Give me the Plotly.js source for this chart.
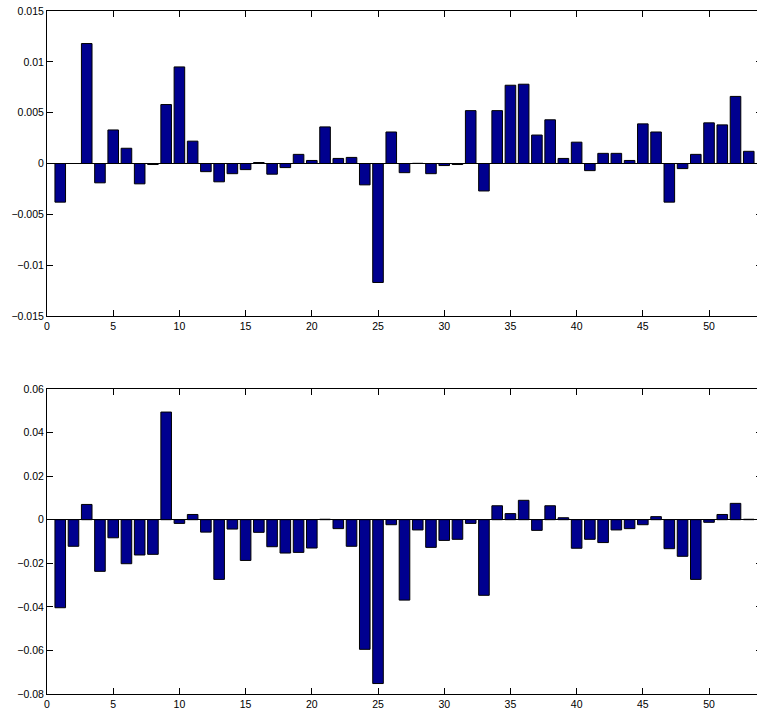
<!DOCTYPE html>
<html>
<head>
<meta charset="utf-8">
<script src="https://cdn.plot.ly/plotly-3.0.1.min.js"></script>
<style>
html, body { margin: 0; padding: 0; overflow: hidden; background: #fff; }
#chart { width: 762px; height: 709px; }
</style>
</head>
<body>
<div id="chart"></div>
<script>
// Bar indices
const idx = Array.from({length: 53}, (_, i) => i + 1);

// Top panel values
const topValues = [
  -0.0038, 0.0000, 0.0118, -0.0019, 0.0033, 0.0015, -0.0020, -0.0001, 0.0058, 0.0095,
  0.0022, -0.0008, -0.0018, -0.0010, -0.0006, 0.0001, -0.00105, -0.0004, 0.0009, 0.0003,
  0.0036, 0.0005, 0.0006, -0.0021, -0.0117, 0.0031, -0.0009, 0.00002, -0.0010, -0.0002,
  -0.0001, 0.0052, -0.0027, 0.0052, 0.0077, 0.0078, 0.0028, 0.0043, 0.0005, 0.0021,
  -0.0007, 0.0010, 0.0010, 0.0003, 0.0039, 0.0031, -0.0038, -0.0005, 0.0009, 0.0040,
  0.0038, 0.0066, 0.0012
];

// Bottom panel values
const bottomValues = [
  -0.0404, -0.0122, 0.0070, -0.0237, -0.0083, -0.0202, -0.0162, -0.0159, 0.0494, -0.0017,
  0.0024, -0.0057, -0.0274, -0.0043, -0.0187, -0.0058, -0.0124, -0.0153, -0.0150, -0.0130,
  0.0002, -0.0041, -0.0122, -0.0595, -0.0752, -0.0023, -0.0369, -0.0047, -0.0127, -0.0095,
  -0.0090, -0.0017, -0.0347, 0.0064, 0.0028, 0.0089, -0.0049, 0.0064, 0.0009, -0.0131,
  -0.0090, -0.0105, -0.0047, -0.0041, -0.0023, 0.0014, -0.0133, -0.0168, -0.0274, -0.0012,
  0.0024, 0.0075, 0.0002
];

// Tick labels
const xTickVals = [0, 5, 10, 15, 20, 25, 30, 35, 40, 45, 50];
const xTickText = ['0', '5', '10', '15', '20', '25', '30', '35', '40', '45', '50'];
const topTickVals = [-0.015, -0.01, -0.005, 0, 0.005, 0.01, 0.015];
const topTickText = ['\u22120.015', '\u22120.01', '\u22120.005', '0', '0.005', '0.01', '0.015'];
const botTickVals = [-0.08, -0.06, -0.04, -0.02, 0, 0.02, 0.04, 0.06];
const botTickText = ['\u22120.08', '\u22120.06', '\u22120.04', '\u22120.02', '0', '0.02', '0.04', '0.06'];

const barColor = '#00008F';
const font = {family: 'Liberation Sans, Arial, sans-serif', size: 10.5, color: '#000'};

const traces = [
  {type: 'bar', x: idx, y: topValues, xaxis: 'x', yaxis: 'y', width: 0.8,
   marker: {color: barColor, line: {color: '#000', width: 1}}, hoverinfo: 'x+y'},
  {type: 'bar', x: idx, y: bottomValues, xaxis: 'x2', yaxis: 'y2', width: 0.8,
   marker: {color: barColor, line: {color: '#000', width: 1}}, hoverinfo: 'x+y'}
];

function xAxis(anchor) {
  return {
    anchor: anchor, range: [0, 54], tickmode: 'array', tickvals: xTickVals, ticktext: xTickText,
    ticks: 'inside', ticklen: 6, tickcolor: '#000', showline: true, linecolor: '#000', linewidth: 1,
    mirror: 'ticks', showgrid: false, zeroline: false, tickfont: font, fixedrange: true
  };
}
function yAxis(anchor, domain, range, vals, text) {
  return {
    anchor: anchor, domain: domain, range: range, tickmode: 'array', tickvals: vals, ticktext: text,
    ticks: 'inside', ticklen: 6, tickcolor: '#000', showline: true, linecolor: '#000', linewidth: 1,
    mirror: 'ticks', showgrid: false, zeroline: true, zerolinecolor: '#000', zerolinewidth: 1,
    tickfont: font, fixedrange: true
  };
}

const layout = {
  width: 762, height: 709,
  margin: {l: 47, r: 0, t: 11, b: 15},
  paper_bgcolor: '#fff', plot_bgcolor: '#fff',
  showlegend: false, bargap: 0.2,
  xaxis: xAxis('y'),
  yaxis: yAxis('x', [0.5534, 1], [-0.015, 0.015], topTickVals, topTickText),
  xaxis2: xAxis('y2'),
  yaxis2: yAxis('x2', [0, 0.4466], [-0.08, 0.06], botTickVals, botTickText),
  font: font
};

Plotly.newPlot('chart', traces, layout, {displayModeBar: false, staticPlot: true});
</script>
</body>
</html>
